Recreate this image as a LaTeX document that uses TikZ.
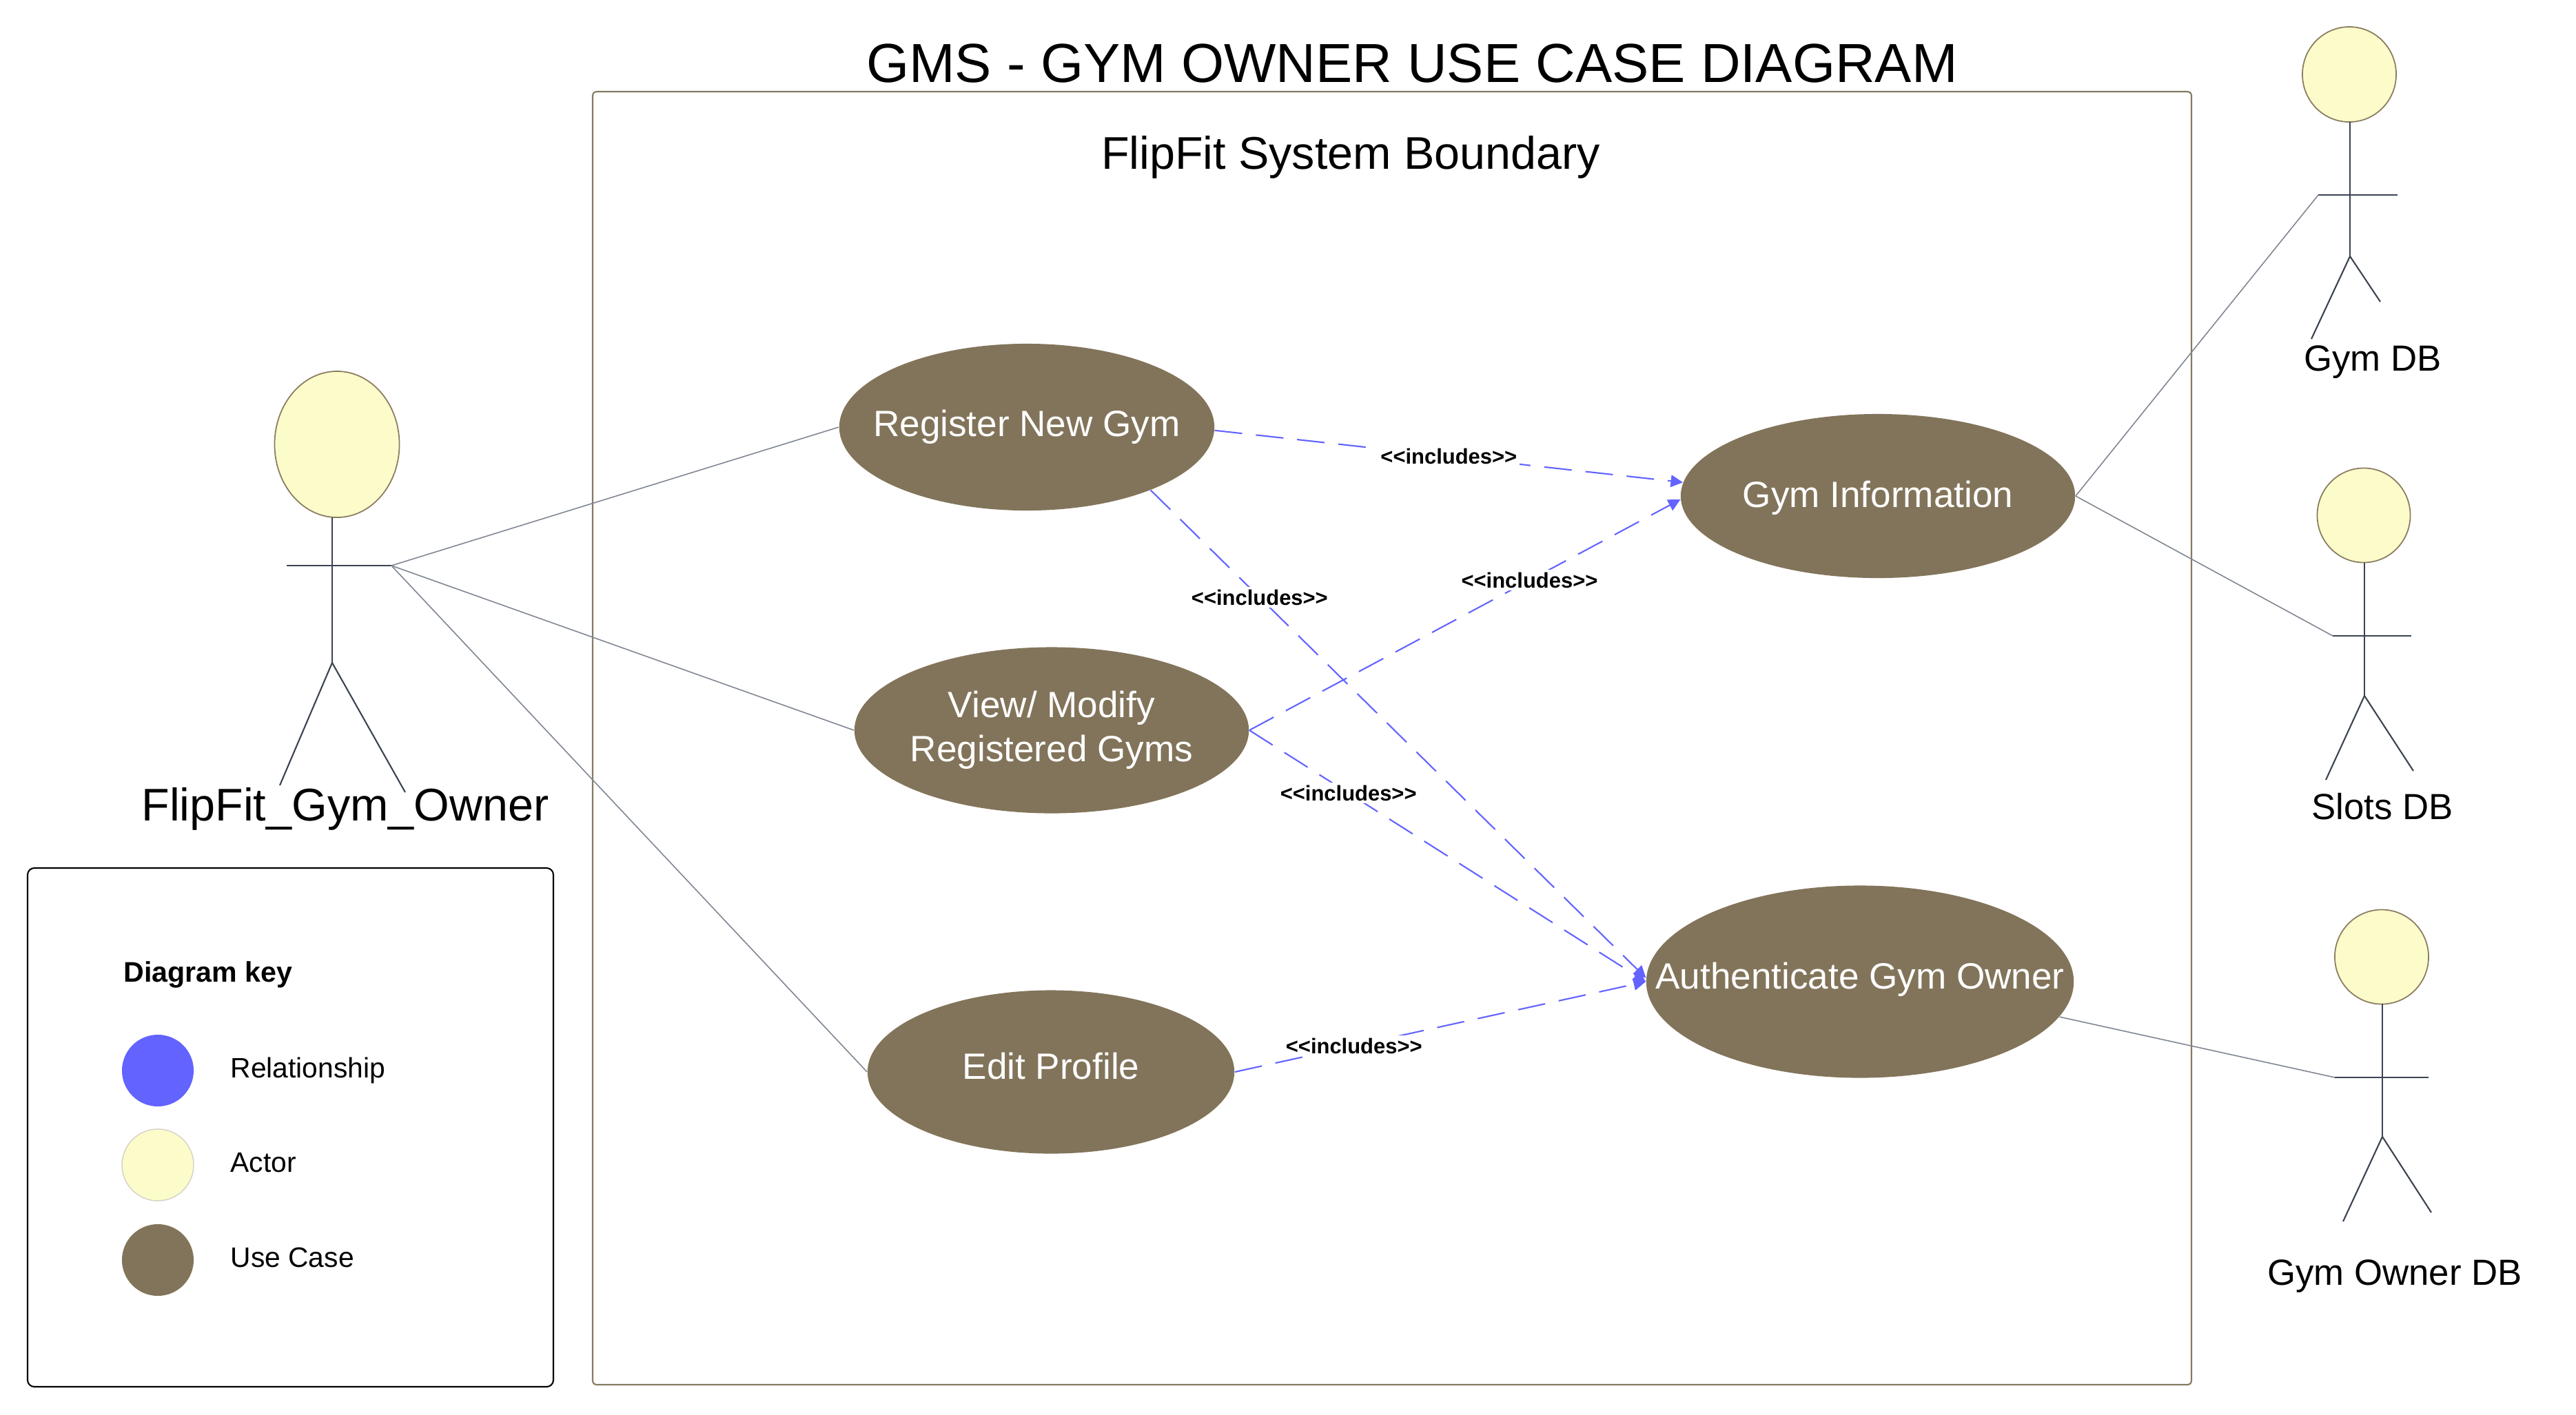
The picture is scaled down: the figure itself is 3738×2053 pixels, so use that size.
\documentclass[tikz,border=0pt]{standalone}
\usepackage{fontspec}
\setmainfont{Liberation Sans}
\newfontfamily\plainsans{Liberation Sans}
\usetikzlibrary{shapes.geometric,arrows.meta}
\definecolor{ucfill}{HTML}{82745A}
\definecolor{actfill}{HTML}{FCFBCA}
\definecolor{actdraw}{HTML}{8A7D60}
\definecolor{relblue}{HTML}{6363FF}
\definecolor{bound}{HTML}{857A62}
\definecolor{assoc}{HTML}{7F8793}
\definecolor{stickc}{HTML}{3B4351}
\tikzset{
  usecase/.style={ellipse, fill=ucfill, inner sep=0pt},
  uctext/.style={inner sep=0pt, text=white, align=center,
    font=\fontsize{15.1pt}{18.2pt}\selectfont},
  actorhead/.style={ellipse, fill=actfill, draw=actdraw, line width=0.5pt, inner sep=0pt},
  stick/.style={draw=stickc, line width=0.6pt},
  assocline/.style={draw=assoc, line width=0.45pt},
  incl/.style={draw=relblue, line width=0.6pt, dash pattern=on 11.4pt off 5.7pt,
    -{Triangle[length=5pt,width=5pt]}},
  incllabel/.style={fill=white, inner sep=1pt, text=black,
    font=\plainsans\bfseries\fontsize{8.8pt}{10pt}\selectfont},
  bigtext/.style={anchor=base, inner sep=0pt, font=\fontsize{18.9pt}{22pt}\selectfont},
  dbtext/.style={anchor=base, inner sep=0pt, font=\fontsize{15pt}{18pt}\selectfont},
  keytext/.style={anchor=base west, inner sep=0pt, font=\fontsize{11.6pt}{14pt}\selectfont},
  keydot/.style={circle, minimum size=1.04cm, inner sep=0pt},
}
\begin{document}
\begin{tikzpicture}[x=0.01cm, y=-0.01cm]
\useasboundingbox (0,0) rectangle (3738,2053);
\fill[white] (0,0) rectangle (3738,2053);

% title
\node[anchor=base, inner sep=0pt, font=\fontsize{22.7pt}{26pt}\selectfont] (title) at (2049,119) {GMS - GYM OWNER USE CASE DIAGRAM};

% system boundary
\draw[draw=bound, line width=0.6pt, rounded corners=1.5pt] (860,133) rectangle (3180,2010);
\node[bigtext] (boundlabel) at (1960,245) {FlipFit System Boundary};

% use cases
\node[usecase, minimum width=5.44cm, minimum height=2.42cm] (reg) at (1490,620) {};
\node[usecase, minimum width=5.72cm, minimum height=2.38cm] (info) at (2725,720) {};
\node[usecase, minimum width=5.72cm, minimum height=2.41cm] (view) at (1526,1060) {};
\node[usecase, minimum width=5.32cm, minimum height=2.37cm] (edit) at (1525,1556) {};
\node[usecase, minimum width=6.20cm, minimum height=2.79cm] (auth) at (2699,1425) {};
\node[uctext] (regtext) at (reg.center) {Register New Gym};
\node[uctext, yshift=-0.03cm] (infotext) at (info.center) {Gym Information};
\node[uctext] (viewtext) at (view.center) {View/ Modify\\Registered Gyms};
\node[uctext, yshift=0.09cm] (edittext) at (edit.center) {Edit Profile};
\node[uctext, yshift=0.03cm] (authtext) at (auth.center) {Authenticate Gym Owner};

% actor: FlipFit_Gym_Owner
\node[actorhead, minimum width=1.81cm, minimum height=2.12cm] (ownerhead) at (489,645) {};
\draw[stick] (482,751) -- (482,962);
\draw[stick] (416,821) -- (568,821);
\draw[stick] (406,1140) -- (482,962) -- (588,1150);
\coordinate (ownerarm) at (568,821);
\node[bigtext] (ownerlabel) at (501,1191) {FlipFit\_Gym\_Owner};

% actor: Gym DB
\node[actorhead, minimum width=1.36cm, minimum height=1.38cm] (gymdbhead) at (3409,108) {};
\draw[stick] (3410,177) -- (3410,372);
\draw[stick] (3364,283) -- (3479,283);
\draw[stick] (3354,492) -- (3410,372) -- (3454,438);
\coordinate (gymdbarm) at (3364,283);
\node[dbtext] (gymdblabel) at (3443,538) {Gym DB};

% actor: Slots DB
\node[actorhead, minimum width=1.35cm, minimum height=1.37cm] (slotshead) at (3430,748) {};
\draw[stick] (3431,817) -- (3431,1010);
\draw[stick] (3385,923) -- (3499,923);
\draw[stick] (3375,1132) -- (3431,1010) -- (3502,1119);
\coordinate (slotsarm) at (3385,923);
\node[dbtext] (slotslabel) at (3457,1189) {Slots DB};

% actor: Gym Owner DB
\node[actorhead, minimum width=1.36cm, minimum height=1.37cm] (godbhead) at (3456,1389) {};
\draw[stick] (3457,1457) -- (3457,1650);
\draw[stick] (3388,1564) -- (3524,1564);
\draw[stick] (3400,1773) -- (3457,1650) -- (3528,1760);
\coordinate (godbarm) at (3388,1564);
\node[dbtext] (godblabel) at (3475,1865) {Gym Owner DB};

% associations
\draw[assocline] (ownerarm) -- (reg.west);
\draw[assocline] (ownerarm) -- (view.west);
\draw[assocline] (ownerarm) -- (edit.west);
\draw[assocline] (info.east) -- (gymdbarm);
\draw[assocline] (info.east) -- (slotsarm);
\draw[assocline] (auth.-10.4) -- (godbarm);

% includes
\draw[incl] (reg.-1) -- node[incllabel, pos=0.5] {<\kern0pt<includes>\kern0pt>} (info.176);
\draw[incl] (reg.-27) -- node[incllabel, pos=0.22] {<\kern0pt<includes>\kern0pt>} (auth.179);
\draw[incl] (view.east) -- node[incllabel, pos=0.65] {<\kern0pt<includes>\kern0pt>} (info.181);
\draw[incl] (view.east) -- node[incllabel, pos=0.25] {<\kern0pt<includes>\kern0pt>} (auth.180);
\draw[incl] (edit.east) -- node[incllabel, pos=0.29] {<\kern0pt<includes>\kern0pt>} (auth.180.5);

% legend
\draw[black, line width=0.6pt, rounded corners=2.8pt] (40,1260) rectangle (803,2013);
\node[anchor=base west, inner sep=0pt, font=\bfseries\fontsize{11.7pt}{14pt}\selectfont] (keytitle) at (179,1425) {Diagram key};
\node[keydot, fill=relblue] (keyrel) at (229,1554) {};
\node[keydot, fill=actfill, draw=actdraw!35, line width=0.4pt] (keyact) at (229,1691) {};
\node[keydot, fill=ucfill] (keyuc) at (229,1829) {};
\node[keytext] (keyreltext) at (334,1564) {Relationship};
\node[keytext] (keyacttext) at (334,1701) {Actor};
\node[keytext] (keyuctext) at (334,1839) {Use Case};
\end{tikzpicture}
\end{document}
